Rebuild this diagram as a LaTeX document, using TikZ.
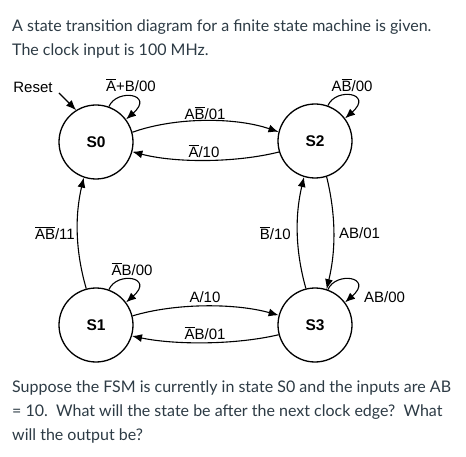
\documentclass[tikz,border=0pt]{standalone}
\usepackage{fontspec}
\setmainfont{Lato}
\newfontfamily\diagfont{Liberation Sans}
\usetikzlibrary{arrows.meta}
\definecolor{txtgray}{HTML}{2D3B45}
\newcommand{\nb}[1]{\ensuremath{\overline{\mbox{#1}}}}
\begin{document}
\begin{tikzpicture}[x=1pt,y=-1pt,
  state/.style={circle, draw, line width=1.3pt, minimum size=74pt, inner sep=0pt,
    font=\diagfont\fontsize{15.5}{18}\selectfont\bfseries},
  lbl/.style={font=\diagfont\fontsize{15}{17}\selectfont, inner sep=0pt},
  edge/.style={line width=1.1pt, -{Latex[length=10pt,width=8pt]}},
  para/.style={anchor=base west, inner sep=0pt, text=txtgray, font=\fontsize{16}{19}\selectfont}]
\fill[white] (0,0) rectangle (466,457);
\useasboundingbox (0,0) rectangle (466,457);

% text
\node[para] (t1) at (12,32) {A state transition diagram for a finite state machine is given.};
\node[para] (t2) at (12,56) {The clock input is 100 MHz.};
\node[para] (b1) at (12,392) {Suppose the FSM is currently in state S0 and the inputs are AB};
\node[para] (b2) at (12,416) {= 10.\ \ What will the state be after the next clock edge?\ \ What};
\node[para] (b3) at (12,440) {will the output be?};

% states
\node[state] (S0) at (96,142) {S0};
\node[state] (S2) at (315,141) {S2};
\node[state] (S1) at (96,325) {S1};
\node[state] (S3) at (315,325) {S3};

% reset
\node[lbl] (reset) at (33,87) {Reset};
\coordinate (rs) at (59,93);
\draw[edge] (rs) -- (S0.122);

% self loops
\draw[edge] (S0.70) .. controls (117,88) and (155,94) .. (S0.37);
\node[lbl] (l00) at (131,85) {\nb{A}+B/00};
\draw[edge] (S2.70) .. controls (336,87) and (374,93) .. (S2.37);
\node[lbl] (l22) at (352,85) {A\nb{B}/00};
\draw[edge] (S1.70) .. controls (117,271) and (155,277) .. (S1.37);
\node[lbl] (l11) at (132,269) {\nb{A}B/00};
\draw[edge] (S3.70) .. controls (336,271) and (374,277) .. (S3.37);
\node[lbl, anchor=west] (l33) at (364,297) {AB/00};

% horizontal edges
\draw[edge] (S0.15) .. controls (175,117) and (235,117) .. (S2.166);
\node[lbl] (l02) at (205,113) {A\nb{B}/01};
\draw[edge] (S2.197) .. controls (235,163) and (175,163) .. (S0.345);
\node[lbl] (l20) at (204,151) {\nb{A}/10};
\draw[edge] (S1.14) .. controls (175,303) and (235,303) .. (S3.165);
\node[lbl] (l13) at (205,297) {A/10};
\draw[edge] (S3.195) .. controls (235,345) and (175,345) .. (S1.343);
\node[lbl] (l31) at (205,333) {\nb{A}B/01};

% vertical edges
\draw[edge] (S1.105) .. controls (75,250) and (75,215) .. (S0.251);
\node[lbl, anchor=east] (l10) at (75,233) {\nb{A}\nb{B}/11};
\draw[edge] (S3.104) .. controls (295,250) and (295,215) .. (S2.253);
\node[lbl, anchor=east] (l32) at (291,233) {\nb{B}/10};
\draw[edge] (S2.288) .. controls (336,215) and (336,250) .. (S3.72);
\node[lbl, anchor=west] (l23) at (339,233) {AB/01};
\end{tikzpicture}
\end{document}
